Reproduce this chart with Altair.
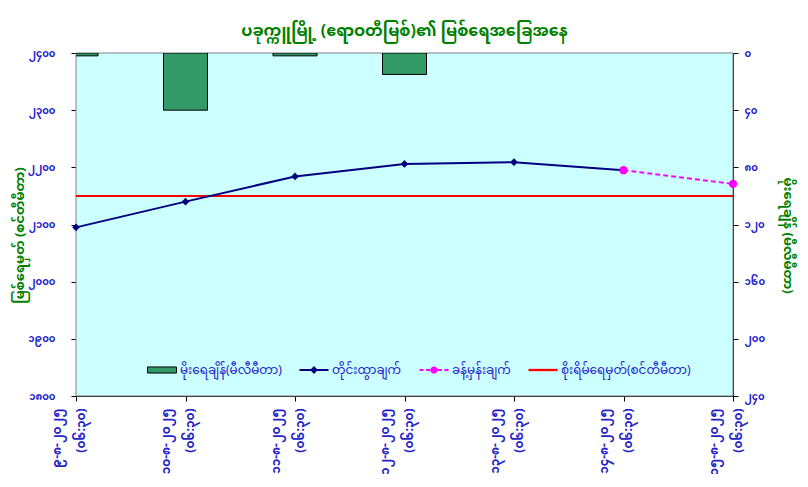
import altair as alt
import pandas as pd

FONT = "Noto Sans Myanmar, Padauk, Myanmar Text, Noto Sans, DejaVu Sans, sans-serif"

title_text = "ပခုက္ကူမြို့ (ဧရာဝတီမြစ်)၏ မြစ်ရေအခြေအနေ"
left_title = "မြစ်ရေမှတ် (စင်တီမီတာ)"
right_title = "မိုးရေချိန် (မီလီမီတာ)"

dates = ["၉-၈-၂၀၂၅", "၁၀-၈-၂၀၂၅", "၁၁-၈-၂၀၂၅", "၁၂-၈-၂၀၂၅",
         "၁၃-၈-၂၀၂၅", "၁၄-၈-၂၀၂၅", "၁၅-၈-၂၀၂၅"]
times = ["(၀၆:၃၀)"] * 7

rainfall = [2, 40, 2, 15, 0, 0, 0]
measured = [2095, 2140, 2184, 2206, 2209, 2195, None]
forecast = [None, None, None, None, None, 2195, 2171]
danger_level = 2150

level_ticks = [1800, 1900, 2000, 2100, 2200, 2300, 2400]
level_labels = ["၁၈၀၀", "၁၉၀၀", "၂၀၀၀", "၂၁၀၀", "၂၂၀၀", "၂၃၀၀", "၂၄၀၀"]
rain_ticks = [0, 40, 80, 120, 160, 200, 240]
rain_labels = ["၀", "၄၀", "၈၀", "၁၂၀", "၁၆၀", "၂၀၀", "၂၄၀"]

series_names = ["မိုးရေချိန်(မီလီမီတာ)", "တိုင်းထွာချက်", "ခန့်မှန်းချက်", "စိုးရိမ်ရေမှတ်(စင်တီမီတာ)"]
series_fill = ["#339966", "#000080", "#FF00FF", "#FF0000"]
series_stroke = ["#000000", "transparent", "transparent", "transparent"]
series_shape = [
    "M-1,-0.21 H1 V0.21 H-1 Z",
    "M-1,-0.07 H1 V0.07 H-1 Z M-0.27,0 L0,-0.27 L0.27,0 L0,0.27 Z",
    "M-1,-0.07 H-0.72 V0.07 H-1 Z M-0.55,-0.07 H-0.27 V0.07 H-0.55 Z "
    "M0.27,-0.07 H0.55 V0.07 H0.27 Z M0.72,-0.07 H1 V0.07 H0.72 Z "
    "M0.25,0 A0.25,0.25 0 1 1 -0.25,0 A0.25,0.25 0 1 1 0.25,0 Z",
    "M-1,-0.08 H1 V0.08 H-1 Z",
]

cats = [f"{d}|{t}" for d, t in zip(dates, times)]
df = pd.DataFrame({"cat": cats, "rain": rainfall, "measured": measured, "forecast": forecast})
df_danger = pd.DataFrame({"danger": [danger_level]})
df_legend = pd.DataFrame({"series": series_names})
df_bg = pd.DataFrame({"lo": [rain_ticks[0]], "hi": [rain_ticks[-1]]})


def ternary(ticks, labels):
    expr = "''"
    for t, l in reversed(list(zip(ticks, labels))):
        expr = f"datum.value == {t} ? '{l}' : ({expr})"
    return expr


BLUE = "#2323C8"
GREEN = "#008000"

x_enc = alt.X(
    "cat:N",
    sort=cats,
    scale=alt.Scale(type="point", padding=0, domain=cats),
    axis=alt.Axis(
        title=None, labelAngle=270, labelAlign="right", labelBaseline="middle",
        labelExpr="split(datum.label, '|')", labelColor=BLUE, labelFont=FONT,
        labelFontSize=12, labelFontWeight="bold", labelLineHeight=24, labelPadding=7,
        labelOffset=-20,
        tickSize=5, tickColor="black", domainColor="black", labelOverlap=False,
        labelBound=False, grid=False,
    ),
)

level_scale = alt.Scale(domain=[1800, 2400], nice=False, zero=False)
level_axis = alt.Axis(
    orient="left", values=level_ticks, labelExpr=ternary(level_ticks, level_labels),
    labelColor=BLUE, labelFont=FONT, labelFontSize=10, labelFontWeight="bold",
    tickSize=5, tickColor="black", domainColor="black", labelPadding=16,
    grid=True, gridColor="black", gridDash=[3, 2], gridWidth=1,
    gridOpacity={"condition": {"test": "datum.value == 2400 || datum.value == 1800", "value": 0}, "value": 1},
    title=left_title, titleColor=GREEN, titleFont=FONT, titleFontSize=13,
    titleFontWeight="bold", titleAngle=270, titleBaseline="middle", titleX=-57, titleY=182,
)

rain_scale = alt.Scale(domain=[0, 240], reverse=True, nice=False)
rain_axis = alt.Axis(
    orient="right", values=rain_ticks, labelExpr=ternary(rain_ticks, rain_labels),
    labelColor=BLUE, labelFont=FONT, labelFontSize=10, labelFontWeight="bold",
    tickSize=5, tickColor="black", domainColor="black", labelPadding=6, grid=False,
    title=right_title, titleColor=GREEN, titleFont=FONT, titleFontSize=13,
    titleFontWeight="bold", titleAngle=90, titleBaseline="middle", titleX=54, titleY=182,
)

# plot-area background (light cyan with grey frame)
bg = alt.Chart(df_bg).mark_rect(fill="#CCFFFF", stroke="#808080", strokeWidth=1).encode(
    y=alt.Y("lo:Q", scale=rain_scale, axis=rain_axis),
    y2="hi:Q",
)

bars = alt.Chart(df).transform_filter("datum.rain > 0").mark_bar(
    color="#339966", stroke="black", strokeWidth=1, size=44, clip=True
).encode(
    x=x_enc,
    y=alt.Y("rain:Q", scale=rain_scale, axis=rain_axis),
)

danger = alt.Chart(df_danger).mark_rule(color="#FF0000", strokeWidth=2).encode(
    y=alt.Y("danger:Q", scale=level_scale, axis=level_axis)
)

meas = alt.Chart(df).transform_filter("isValid(datum.measured)").mark_line(
    color="#000080", strokeWidth=2,
    point=alt.OverlayMarkDef(shape="diamond", size=60, filled=True, color="#000080"),
).encode(x=x_enc, y=alt.Y("measured:Q", scale=level_scale, axis=level_axis))

fc = alt.Chart(df).transform_filter("isValid(datum.forecast)").mark_line(
    color="#FF00FF", strokeWidth=2, strokeDash=[5, 3],
    point=alt.OverlayMarkDef(shape="circle", size=70, filled=True, color="#FF00FF"),
).encode(x=x_enc, y=alt.Y("forecast:Q", scale=level_scale, axis=level_axis))

leg_common = dict(title=None, symbolFillColor="black", symbolStrokeColor="black")
legend_layer = alt.Chart(df_legend).mark_point(filled=True, opacity=0).encode(
    color=alt.Color(
        "series:N",
        scale=alt.Scale(domain=series_names, range=series_fill),
        legend=alt.Legend(
            orient="none", direction="horizontal", legendX=71, legendY=302,
            symbolSize=841, symbolStrokeWidth=1, symbolOpacity=1, labelColor=BLUE,
            labelFont=FONT, labelFontSize=12, labelOffset=3, columnPadding=15, padding=0,
            **leg_common,
        ),
    ),
    stroke=alt.Stroke("series:N", scale=alt.Scale(domain=series_names, range=series_stroke),
                      legend=alt.Legend(**leg_common)),
    shape=alt.Shape("series:N", scale=alt.Scale(domain=series_names, range=series_shape),
                    legend=alt.Legend(**leg_common)),
)

rain_group = alt.layer(bg, bars)
lines = alt.layer(danger, meas, fc, legend_layer)

chart = alt.layer(rain_group, lines).resolve_scale(y="independent").properties(
    width=657, height=343,
    title=alt.TitleParams(title_text, color=GREEN, font=FONT, fontSize=16,
                          fontWeight="bold", anchor="middle", offset=9),
    autosize=alt.AutoSizeParams(type="none"),
    padding={"left": 68, "top": 45, "right": 67, "bottom": 78},
).configure(background="white").configure_view(fill="#CCFFFF", stroke="#808080", strokeWidth=1)

chart.save("out.html", embed_options={"renderer": "svg", "actions": False})
